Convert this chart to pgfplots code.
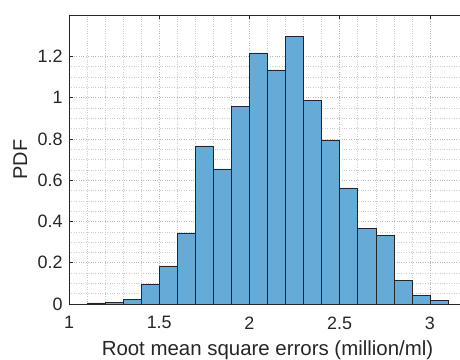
\documentclass[border=0pt]{standalone}
\usepackage{fontspec}
\setmainfont{Liberation Sans}
\usepackage{pgfplots}
\pgfplotsset{compat=1.18}
\definecolor{barfill}{RGB}{102,170,215}
\definecolor{axcol}{RGB}{38,38,38}
\begin{document}
\begin{tikzpicture}
\begin{axis}[
  scale only axis, width=397bp, height=289bp,
  xmin=1, xmax=3.2, ymin=0, ymax=1.4,
  xtick={1,1.5,2,2.5,3},
  ytick={0,0.2,0.4,0.6,0.8,1,1.2},
  minor x tick num=4, minor y tick num=3,
  grid=both,
  major grid style={dotted, gray!55, line width=0.5pt},
  minor grid style={dotted, gray!40, line width=0.5pt},
  tick align=inside,
  major tick length=4bp, minor tick length=0pt,
  every tick/.style={axcol, line width=0.5pt},
  axis line style={axcol, line width=0.6pt},
  /pgf/number format/assume math mode=true,
  ticklabel style={font=\fontsize{18}{20}\selectfont, text=axcol},
  xticklabel style={yshift=-9bp},
  yticklabel style={xshift=-3bp},
  xlabel={Root mean square errors (million/ml)},
  ylabel={PDF},
  every axis x label/.style={at={(axis description cs:0.5,-0.159)}, anchor=center, font=\fontsize{20.5}{22}\selectfont, text=axcol},
  every axis y label/.style={at={(axis description cs:-0.123,0.5)}, rotate=90, anchor=center, font=\fontsize{20}{22}\selectfont, text=axcol},
]
\addplot[ybar interval, fill=barfill, draw=black!85, line width=0.5pt] coordinates {
(1.1,0.006) (1.2,0.008) (1.3,0.024) (1.4,0.096) (1.5,0.185) (1.6,0.344)
(1.7,0.766) (1.8,0.654) (1.9,0.956) (2.0,1.216) (2.1,1.134) (2.2,1.297)
(2.3,0.985) (2.4,0.795) (2.5,0.563) (2.6,0.366) (2.7,0.333) (2.8,0.114)
(2.9,0.043) (3.0,0.016) (3.1,0.016)
};
\coordinate (sw) at (rel axis cs:0,0);
\end{axis}
\pgfresetboundingbox
\path[use as bounding box] ([shift={(-69bp,-56bp)}]sw) rectangle ([shift={(391bp,304bp)}]sw);
\end{tikzpicture}
\end{document}
